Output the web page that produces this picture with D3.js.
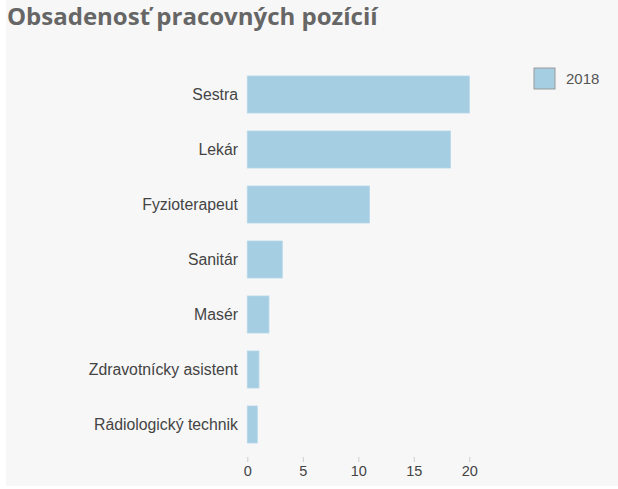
<!DOCTYPE html>
<html>
<head>
<meta charset="utf-8">
<script src="https://cdn.jsdelivr.net/npm/d3@7"></script>
<style>
  body { margin: 0; background: #fff; }
  svg { display: block; }
</style>
</head>
<body>
<svg id="chart" width="618" height="489"></svg>
<script>
// data
let categories = ["Sestra", "Lekár", "Fyzioterapeut", "Sanitár", "Masér", "Zdravotnícky asistent", "Rádiologický technik"];
let values2018 = [20, 18.3, 11, 3.15, 1.95, 1.05, 0.9];
let xTicks = [0, 5, 10, 15, 20];
let seriesName = "2018";

let svg = d3.select("#chart");

// panel background
svg.append("rect")
  .attr("x", 6).attr("y", 0)
  .attr("width", 612).attr("height", 486)
  .attr("fill", "#f7f7f7");

// title
svg.append("text")
  .attr("x", 7).attr("y", 25)
  .style("font-family", "'Open Sans', sans-serif")
  .style("font-weight", "bold")
  .style("font-size", "24px")
  .attr("fill", "#666")
  .text("Obsadenosť pracovných pozícií");

let x = d3.scaleLinear()
  .domain([0, 20])
  .range([247.3, 469.3]);

let y = d3.scaleBand()
  .domain(categories)
  .range([67, 452])
  .paddingInner(0.327)
  .paddingOuter(0.1636);

let data = categories.map(function(c, i) { return {name: c, value: values2018[i]}; });

let g = svg.append("g");

g.selectAll(".bar")
  .data(data)
  .enter().append("rect")
  .attr("class", "bar")
  .attr("x", x(0))
  .attr("y", d => y(d.name))
  .attr("width", d => x(d.value) - x(0))
  .attr("height", y.bandwidth())
  .attr("fill", "#a6cee3")
  .attr("stroke", "#b6d7ea")
  .attr("stroke-width", 0.8);

// category labels
g.selectAll(".cat")
  .data(data)
  .enter().append("text")
  .attr("class", "cat")
  .attr("x", 238)
  .attr("y", d => y(d.name) + y.bandwidth() / 2)
  .attr("dy", "0.36em")
  .attr("text-anchor", "end")
  .style("font-family", "'Liberation Sans', Arial, sans-serif")
  .style("font-size", "15.8px")
  .attr("fill", "#444")
  .text(d => d.name);

// x axis
let xAxis = svg.append("g")
  .attr("transform", "translate(0,457)")
  .call(d3.axisBottom(x).tickValues(xTicks).tickSize(5).tickPadding(4));

xAxis.select(".domain").remove();
xAxis.selectAll(".tick line").attr("stroke", "#ccc");
xAxis.selectAll(".tick text")
  .style("font-family", "'Liberation Sans', Arial, sans-serif")
  .style("font-size", "14.5px")
  .attr("fill", "#444");

// legend
let legend = svg.append("g").attr("transform", "translate(534,68)");
legend.append("rect")
  .attr("width", 21).attr("height", 21)
  .attr("fill", "#a6cee3")
  .attr("stroke", "#999")
  .attr("stroke-width", 1);
legend.append("text")
  .attr("x", 32).attr("y", 10.5)
  .attr("dy", "0.36em")
  .style("font-family", "'Liberation Sans', Arial, sans-serif")
  .style("font-size", "15px")
  .attr("fill", "#555")
  .text(seriesName);
</script>
</body>
</html>
